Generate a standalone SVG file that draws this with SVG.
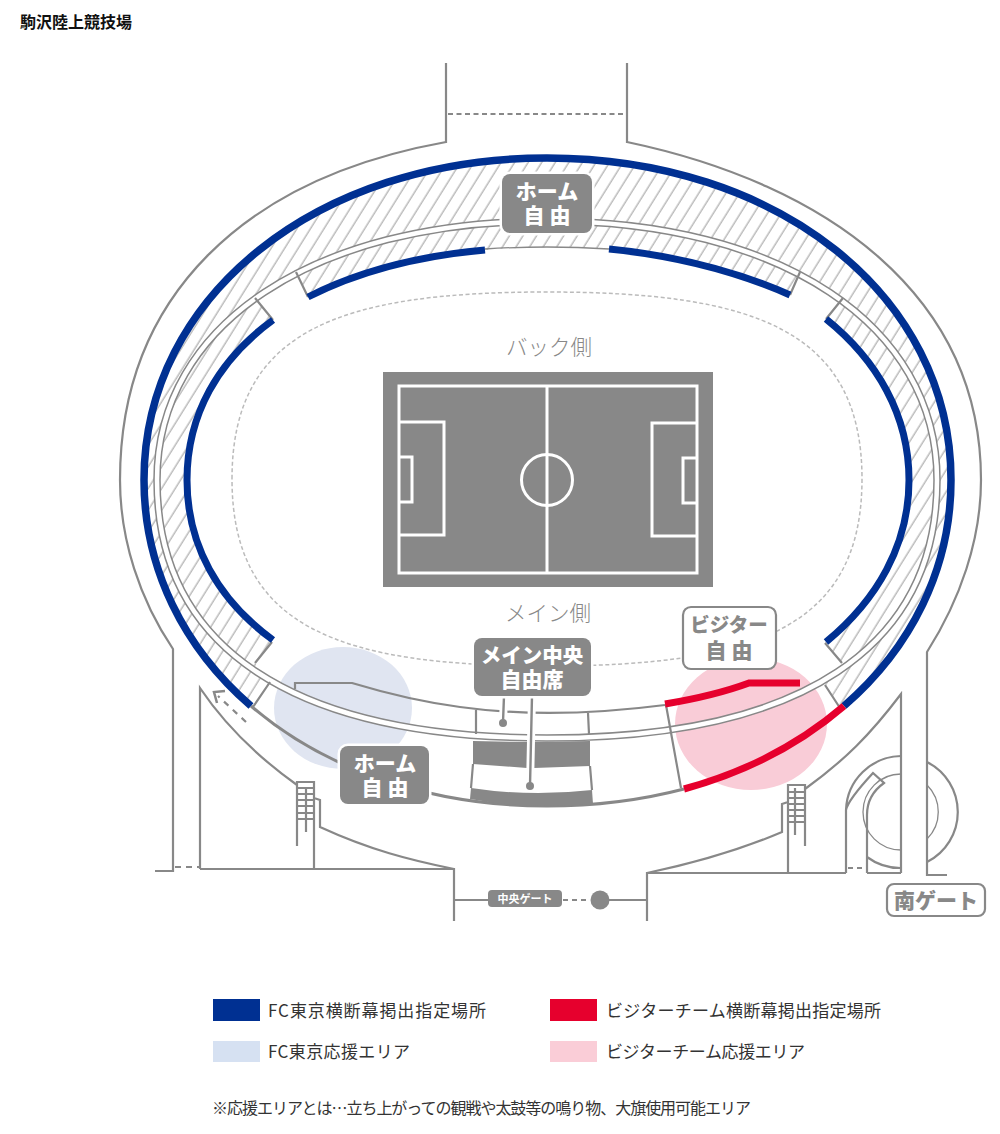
<svg xmlns="http://www.w3.org/2000/svg" width="1000" height="1134" viewBox="0 0 1000 1134">
<style>
text{font-family:"Noto Sans CJK JP","Liberation Sans",sans-serif}
.g{fill:none;stroke:#888;stroke-width:2.2;stroke-linejoin:miter}
.t{fill:none;stroke:#888;stroke-width:1.3}
.lab{fill:#888;stroke:#fff;stroke-width:5;paint-order:stroke}
.lw{fill:#fff;stroke:#888;stroke-width:2.2}
.lt{fill:#fff;font-weight:900;font-size:21px;text-anchor:middle}
.lg{fill:#888;font-weight:900;font-size:19.5px;text-anchor:middle}
.blue{fill:none;stroke:#003092;stroke-width:7.5}
.blue2{fill:none;stroke:#003092;stroke-width:7}
.red{fill:none;stroke:#E6002D;stroke-width:7}
.leg{fill:#333;font-size:17px}
.side{fill:#888;font-size:21.5px;text-anchor:middle;font-weight:300}
.fl{fill:none;stroke:#fff;stroke-width:3}
</style>
<defs>
<pattern id="hatch" width="11.5" height="20" patternUnits="userSpaceOnUse" patternTransform="rotate(32)">
<line x1="5" y1="0" x2="5" y2="20" stroke="#bbb" stroke-width="1.5"/>
</pattern>
</defs>
<text id="title" x="20" y="28" font-size="16" font-weight="700" fill="#111">駒沢陸上競技場</text>
<g id="bubbles">
<ellipse cx="343" cy="708" rx="69" ry="61" fill="#E0E5F1"/>
<ellipse cx="751" cy="724" rx="76" ry="66" fill="#F9CCD7"/>
</g>
<g id="hatching">
<path fill="url(#hatch)" d="M253,707 L251,706 C184,648 144,569 144,480 C144,296 317,158 547,158 C778,158 951,296 951,480 C951,569 911,648 844,706 L840,708 L825,685 L842,663 L825,643 L826,642 C877,600 909,545 909,480 C909,415 877,360 826,319 L843,298 Q822,284 800,272 L790,295 C738,272 678,256 609,249 Q547,245 485,250 C417,256 357,272 308,297 L296,272 Q275,284 255,298 L273,320 C218,360 187,415 187,480 C187,545 218,600 273,640 L255,663 L270,682 Z"/>
</g>
<g id="connectors">
<path d="M232,479 C232,330 340,292 547,292 C754,292 862,330 862,479 C862,628 754,666 547,666 C340,666 232,628 232,479 Z" fill="none" stroke="#bbb" stroke-width="1.5" stroke-dasharray="4 2.5"/>
<path id="ring" d="M157,480 C157,325 313,221 547,221 C781,221 937,325 937,480 C937,648 801,738 547,738 C293,738 157,648 157,480 Z" fill="none" stroke="#888" stroke-width="7.5"/>
<path d="M157,480 C157,325 313,221 547,221 C781,221 937,325 937,480 C937,648 801,738 547,738 C293,738 157,648 157,480 Z" fill="none" stroke="#fff" stroke-width="4.5"/>
<path class="g" d="M446,63 V142 C246,178 120,295 120,480 C120,540 140,600 173,649 V871 H155"/>
<path class="g" d="M627,63 V142 C827,184 981,295 981,480 C981,540 960,600 927,652 V875 H947"/>
<path class="g" stroke-dasharray="5 3.5" d="M448,114 H625"/>
<path class="g" stroke-dasharray="6 5" d="M175,867 H199"/>
<path class="t" d="M485,249 Q547,245 609,249"/>
<path class="g" d="M296,272 L308,297 M255,298 L273,320 M800,272 L790,295 M843,298 L826,319 M272,642 L255,663 M270,682 L253,707 M825,643 L842,663 M825,685 L840,708"/>
<path class="g" style="stroke-width:3" d="M251,706 C323,768 427,806 547,806 C596,806 642,800 684,789"/>
<path class="g" d="M295,689 V683 H352 C395,696 430,703 460,707 C510,714 580,716 665,705"/>
<path class="g" d="M476,710 V734 M588,713 L589,734 M666,705 L681,788 M473,764 L471,788 M590,766 L592,790"/>
<path fill="#888" d="M473,741 L527,742 V768 L473,764 Z M534,742 L590,741 V766 L534,768 Z M471,788 Q530,797 592,790 L593,804 Q530,810 470,799 Z"/>
<path class="g" d="M200,869 V688 C225,725 255,755 297,785 M314,798 L320,800 V827 C370,850 410,860 454,869 M200,869 H454 V921 M297,846 V782 H314 V869 M306,788 V832 M297,788 H314 M297,794 H314 M297,800 H314 M297,806 H314 M297,813 H314 M297,819 H314"/>
<path class="g" d="M246,722 L218,696" stroke-dasharray="6 6"/>
<path class="g" style="stroke-width:2.5" d="M225,691 L214,692 L217,703"/>
<path class="g" d="M901,873 V694 C870,735 845,760 805,789 M788,802 L782,804 V832 C735,852 690,864 647,873 M647,921 V873 H846 M901,873 H867 M788,873 V785 H805 V846 M795,788 V835 M788,792 H805 M788,798 H805 M788,804 H805 M788,810 H805 M788,816 H805 M788,822 H805"/>
<path class="g" d="M901,756 A56,56 0 0 0 846,810 V873 M846,810 Q848,800 873,773 L884,783 Q867,795 867,815 V873 M867,857 A56,56 0 0 0 901,868 M927,762 A56,56 0 0 1 927,862"/>
<path class="g" stroke-dasharray="5 4" d="M848,868 H866"/>
<path class="t" d="M901,774 A38,38 0 0 0 901,850 M927,785 A38,38 0 0 1 927,839"/>
<path class="g" d="M455,900 H488"/>
<path class="g" stroke-dasharray="5 4" d="M563,900 H590"/>
<path class="g" d="M600,900 H647"/>
<circle cx="600" cy="900" r="9.5" fill="#888"/>
</g>
<g id="banners">
<path class="blue" d="M251,706 C184,648 144,569 144,480 C144,296 317,158 547,158 C778,158 951,296 951,480 C951,569 911,648 844,706"/>
<path class="red" d="M844,706 C801,743 746,772 684,789"/>
<path class="blue2" d="M273,320 C218,360 187,415 187,480 C187,545 218,600 273,640"/>
<path class="blue2" d="M308,297 C357,272 417,256 485,250"/>
<path class="blue2" d="M609,249 C678,256 738,272 790,295"/>
<path class="blue2" d="M826,319 C877,360 909,415 909,480 C909,545 877,600 826,642"/>
<path class="red" d="M665,704 C695,699 722,693 749,683 H800"/>
</g>
<g id="field">
<rect x="383" y="372" width="330" height="215" fill="#888"/>
<rect class="fl" x="399" y="386" width="298" height="187"/>
<path class="fl" d="M547,386 V573 M399,422 H444 V535 H399 M399,457 H412 V502 H399 M697,423 H652 V536 H697 M697,458 H683 V503 H697"/>
<circle class="fl" cx="547" cy="480" r="25.5"/>
</g>
<text id="back" class="side" x="549" y="355">バック側</text>
<text id="main" class="side" x="548" y="621">メイン側</text>
<g id="home-top">
<rect class="lab" x="502" y="174" width="90" height="59" rx="8"/>
<text class="lt"><tspan x="547" y="199">ホーム</tspan><tspan x="547" y="223">自 由</tspan></text>
</g>
<g id="main-center">
<path d="M504,696 L503,722 M532,696 L530,786" fill="none" stroke="#fff" stroke-width="8"/>
<path d="M504,696 L503,722 M532,696 L530,786" fill="none" stroke="#888" stroke-width="2.4"/>
<circle cx="503" cy="723" r="4" fill="#888"/><circle cx="530" cy="786" r="4" fill="#888"/>
<rect class="lab" x="474" y="638" width="117" height="58" rx="8"/>
<text class="lt"><tspan x="532" y="663" style="font-size:20.5px">メイン中央</tspan><tspan x="532" y="687">自由席</tspan></text>
</g>
<g id="home-bottom">
<rect class="lab" x="340" y="746" width="89" height="58" rx="8"/>
<text class="lt"><tspan x="385" y="771">ホーム</tspan><tspan x="385" y="795">自 由</tspan></text>
</g>
<g id="visitor">
<rect class="lw" x="683" y="607" width="93" height="62" rx="8"/>
<text class="lg"><tspan x="729" y="632">ビジター</tspan><tspan x="729" y="658" style="font-size:21px">自 由</tspan></text>
</g>
<g id="south-gate">
<rect class="lw" x="887" y="884" width="98" height="32" rx="7"/>
<text class="lg" x="936" y="908" style="font-size:21px">南ゲート</text>
</g>
<g id="center-gate">
<rect x="488" y="890" width="74" height="17" rx="4" fill="#888"/>
<text x="525" y="903" font-size="11" font-weight="700" fill="#fff" text-anchor="middle">中央ゲート</text>
</g>
<g id="legend">
<rect x="213" y="999" width="47" height="22" fill="#003092"/>
<text class="leg" x="268" y="1017" textLength="218">FC東京横断幕掲出指定場所</text>
<rect x="213" y="1041" width="47" height="21" fill="#D6E1F2"/>
<text class="leg" x="268" y="1058" textLength="142">FC東京応援エリア</text>
<rect x="550" y="999" width="47" height="22" fill="#E6002D"/>
<text class="leg" x="606" y="1017" textLength="275">ビジターチーム横断幕掲出指定場所</text>
<rect x="550" y="1041" width="47" height="21" fill="#FACDD7"/>
<text class="leg" x="606" y="1058" textLength="199">ビジターチーム応援エリア</text>
<text class="leg" x="212" y="1114" style="font-size:16px" textLength="539">※応援エリアとは…立ち上がっての観戦や太鼓等の鳴り物、大旗使用可能エリア</text>
</g>
</svg>
